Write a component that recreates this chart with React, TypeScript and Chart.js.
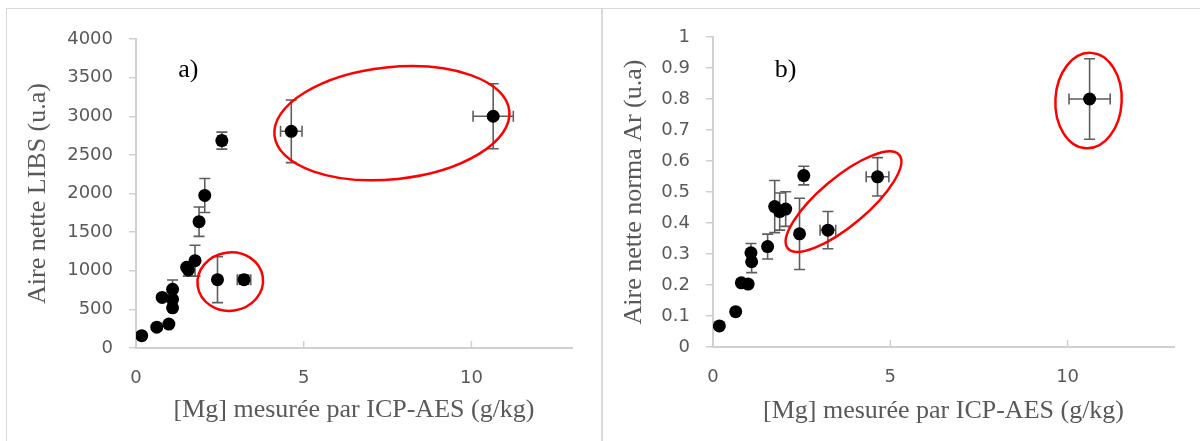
import React, { useEffect, useRef } from 'react';
import { Chart, registerables } from 'chart.js';

Chart.register(...registerables);

// ---------- Panel a) : LIBS net area vs [Mg] ----------
const mgA = [0.17, 0.62, 0.98, 0.78, 1.09, 1.09, 1.09, 1.51, 1.56, 1.76, 1.88, 2.05, 2.43, 3.22, 2.56, 4.63, 10.65];
const libsA = [160, 270, 310, 655, 760, 630, 520, 1045, 1010, 1130, 1635, 1975, 885, 885, 2685, 2805, 3000];
const libsErrA = [0, 0, 0, 0, 120, 0, 0, 0, 80, 200, 190, 220, 297, 60, 110, 405, 420];
const mgErrA = [0, 0, 0, 0, 0, 0, 0, 0, 0, 0, 0, 0, 0, 0.2, 0.12, 0.32, 0.6];

// ---------- Panel b) : net area normalised by Ar vs [Mg] ----------
const mgB = [0.18, 0.64, 0.8, 0.99, 1.07, 1.09, 1.54, 1.74, 1.88, 2.05, 2.44, 3.24, 2.56, 4.64, 10.62];
const normB = [0.068, 0.114, 0.207, 0.203, 0.304, 0.275, 0.324, 0.453, 0.437, 0.445, 0.365, 0.377, 0.553, 0.549, 0.8];
const normErrB = [0, 0, 0.01, 0.01, 0.03, 0.035, 0.04, 0.084, 0.06, 0.056, 0.115, 0.06, 0.03, 0.062, 0.13];
const mgErrB = [0, 0, 0, 0, 0, 0, 0, 0, 0, 0, 0, 0.22, 0.08, 0.32, 0.58];

// ---------- Tick values ----------
const xTicks = [0, 5, 10];
const yTicksA = [0, 500, 1000, 1500, 2000, 2500, 3000, 3500, 4000];
const yTicksB = [0, 0.1, 0.2, 0.3, 0.4, 0.5, 0.6, 0.7, 0.8, 0.9, 1];

// ---------- Red ellipses (data units; rot in degrees) ----------
const ringsA = [
  { cx: 7.63, cy: 2910, rx: 3.52, ry: 725, rot: -6 },
  { cx: 2.81, cy: 860, rx: 0.98, ry: 378, rot: -8 },
];
const ringsB = [
  { cx: 3.68, cy: 0.469, rx: 2.05, ry: 0.0774, rot: -40 },
  { cx: 10.59, cy: 0.795, rx: 0.935, ry: 0.154, rot: 3 },
];

const xTitle = '[Mg] mesurée par ICP-AES (g/kg)';
const yTitleA = 'Aire nette LIBS (u.a)';
const yTitleB = 'Aire nette norma Ar (u.a)';

const AXIS = '#d0d0d0';
const TXT = '#595959';

function errorBars(xs: number[], ys: number[], xe: number[], ye: number[]) {
  return {
    id: 'errorBars',
    beforeDatasetsDraw(chart: any) {
      const { ctx, scales } = chart;
      const x = scales.x, y = scales.y;
      const cap = 5.5;
      ctx.save();
      ctx.strokeStyle = '#5e5e5e';
      ctx.lineWidth = 1.6;
      xs.forEach((xv, i) => {
        const px = x.getPixelForValue(xv);
        const py = y.getPixelForValue(ys[i]);
        ctx.beginPath();
        if (ye[i] > 0) {
          const t = y.getPixelForValue(ys[i] + ye[i]);
          const b = y.getPixelForValue(ys[i] - ye[i]);
          ctx.moveTo(px, t); ctx.lineTo(px, b);
          ctx.moveTo(px - cap, t); ctx.lineTo(px + cap, t);
          ctx.moveTo(px - cap, b); ctx.lineTo(px + cap, b);
        }
        if (xe[i] > 0) {
          const l = x.getPixelForValue(xv - xe[i]);
          const r = x.getPixelForValue(xv + xe[i]);
          ctx.moveTo(l, py); ctx.lineTo(r, py);
          ctx.moveTo(l, py - cap); ctx.lineTo(l, py + cap);
          ctx.moveTo(r, py - cap); ctx.lineTo(r, py + cap);
        }
        ctx.stroke();
      });
      ctx.restore();
    },
  };
}

function rings(list: { cx: number; cy: number; rx: number; ry: number; rot: number }[]) {
  return {
    id: 'rings',
    afterDatasetsDraw(chart: any) {
      const { ctx, scales } = chart;
      const x = scales.x, y = scales.y;
      ctx.save();
      ctx.strokeStyle = '#ff0000';
      ctx.lineWidth = 2.5;
      list.forEach((e) => {
        const cx = x.getPixelForValue(e.cx);
        const cy = y.getPixelForValue(e.cy);
        const rx = Math.abs(x.getPixelForValue(e.cx + e.rx) - cx);
        const ry = Math.abs(y.getPixelForValue(e.cy + e.ry) - cy);
        ctx.beginPath();
        ctx.ellipse(cx, cy, rx, ry, (e.rot * Math.PI) / 180, 0, Math.PI * 2);
        ctx.stroke();
      });
      ctx.restore();
    },
  };
}

function panelLabel(text: string, xv: number, yv: number) {
  return {
    id: 'panelLabel',
    afterDraw(chart: any) {
      const { ctx, scales } = chart;
      ctx.save();
      ctx.fillStyle = '#000';
      ctx.font = '26px "Liberation Serif", "Times New Roman", serif';
      ctx.textAlign = 'center';
      ctx.textBaseline = 'middle';
      ctx.fillText(text, scales.x.getPixelForValue(xv), scales.y.getPixelForValue(yv));
      ctx.restore();
    },
  };
}

const innerXTicks = {
  id: 'innerXTicks',
  afterDraw(chart: any) {
    const { ctx, scales } = chart;
    const x = scales.x;
    const b = chart.chartArea.bottom;
    ctx.save();
    ctx.strokeStyle = AXIS;
    ctx.lineWidth = 1.5;
    x.ticks.forEach((t: any) => {
      if (t.value === 0) return;
      const px = x.getPixelForValue(t.value);
      ctx.beginPath();
      ctx.moveTo(px, b);
      ctx.lineTo(px, b - 7);
      ctx.stroke();
    });
    ctx.restore();
  },
};

function makeConfig(opts: {
  xs: number[]; ys: number[]; xe: number[]; ye: number[];
  yMax: number; yTicks: number[]; yTitle: string;
  rings: any[]; label: string; labelX: number; labelY: number;
  padRight: number; padTop: number; xHeight: number; yWidth: number; xTitlePad: number;
}) {
  return {
    type: 'scatter' as const,
    data: {
      datasets: [
        {
          data: opts.xs.map((x, i) => ({ x, y: opts.ys[i] })),
          pointRadius: 6.5,
          pointHoverRadius: 6.5,
          backgroundColor: '#000',
          borderColor: '#000',
          borderWidth: 0,
        },
      ],
    },
    options: {
      animation: false,
      responsive: false,
      maintainAspectRatio: false,
      events: [],
      layout: { padding: { left: 0, right: opts.padRight, top: opts.padTop, bottom: 0 } },
      plugins: { legend: { display: false }, tooltip: { enabled: false } },
      scales: {
        x: {
          type: 'linear',
          min: 0,
          max: 13,
          afterBuildTicks: (s: any) => { s.ticks = xTicks.map((v) => ({ value: v })); },
          afterFit: (s: any) => { s.height = opts.xHeight; },
          ticks: {
            padding: 20,
            color: TXT,
            font: { family: '"DejaVu Sans"', size: 18 },
            callback: (v: any) => String(v),
            maxRotation: 0,
          },
          grid: { display: true, drawOnChartArea: false, drawTicks: false },
          border: { display: true, color: AXIS, width: 2 },
          title: {
            display: true,
            text: xTitle,
            color: TXT,
            font: { family: '"Liberation Serif", "Times New Roman", serif', size: 26 },
            padding: { top: 0, bottom: opts.xTitlePad },
          },
        },
        y: {
          type: 'linear',
          min: 0,
          max: opts.yMax,
          afterBuildTicks: (s: any) => { s.ticks = opts.yTicks.map((v) => ({ value: v })); },
          afterFit: (s: any) => { s.width = opts.yWidth; },
          ticks: {
            padding: 16,
            color: TXT,
            font: { family: '"DejaVu Sans"', size: 18 },
            callback: (v: any) => String(Math.round(Number(v) * 100) / 100),
          },
          grid: { display: true, drawOnChartArea: false, drawTicks: true, tickLength: 7, color: AXIS, lineWidth: 1.5 },
          border: { display: true, color: AXIS, width: 2 },
          title: {
            display: true,
            text: opts.yTitle,
            color: TXT,
            font: { family: '"Liberation Serif", "Times New Roman", serif', size: 26 },
            padding: { top: 16, bottom: 0 },
          },
        },
      },
    },
    plugins: [
      errorBars(opts.xs, opts.ys, opts.xe, opts.ye),
      rings(opts.rings),
      panelLabel(opts.label, opts.labelX, opts.labelY),
      innerXTicks,
    ],
  };
}

export default function App() {
  const refA = useRef<HTMLCanvasElement | null>(null);
  const refB = useRef<HTMLCanvasElement | null>(null);

  useEffect(() => {
    const a = new Chart(
      refA.current as HTMLCanvasElement,
      makeConfig({
        xs: mgA, ys: libsA, xe: mgErrA, ye: libsErrA,
        yMax: 4000, yTicks: yTicksA, yTitle: yTitleA,
        rings: ringsA, label: 'a)', labelX: 1.56, labelY: 3597,
        padRight: 29, padTop: 30, xHeight: 93, yWidth: 129, xTitlePad: 15,
      }) as any
    );
    const b = new Chart(
      refB.current as HTMLCanvasElement,
      makeConfig({
        xs: mgB, ys: normB, xe: mgErrB, ye: normErrB,
        yMax: 1, yTicks: yTicksB, yTitle: yTitleB,
        rings: ringsB, label: 'b)', labelX: 2.05, labelY: 0.894,
        padRight: 26, padTop: 28, xHeight: 94, yWidth: 110, xTitlePad: 14,
      }) as any
    );
    return () => {
      a.destroy();
      b.destroy();
    };
  }, []);

  return (
    <div style={{ position: 'fixed', left: 0, top: 0, width: 1200, height: 441, overflow: 'hidden', background: '#fff' }}>
      <div style={{ position: 'absolute', left: 6, top: 8, width: 596, height: 460, border: '1px solid #d9d9d9', boxSizing: 'border-box' }}>
        <canvas ref={refA} width={594} height={432} style={{ position: 'absolute', left: 0, top: 0, width: 594, height: 432 }} />
      </div>
      <div style={{ position: 'absolute', left: 602, top: 8, width: 620, height: 460, border: '1px solid #d9d9d9', boxSizing: 'border-box' }}>
        <canvas ref={refB} width={597} height={432} style={{ position: 'absolute', left: 0, top: 0, width: 597, height: 432 }} />
      </div>
    </div>
  );
}
